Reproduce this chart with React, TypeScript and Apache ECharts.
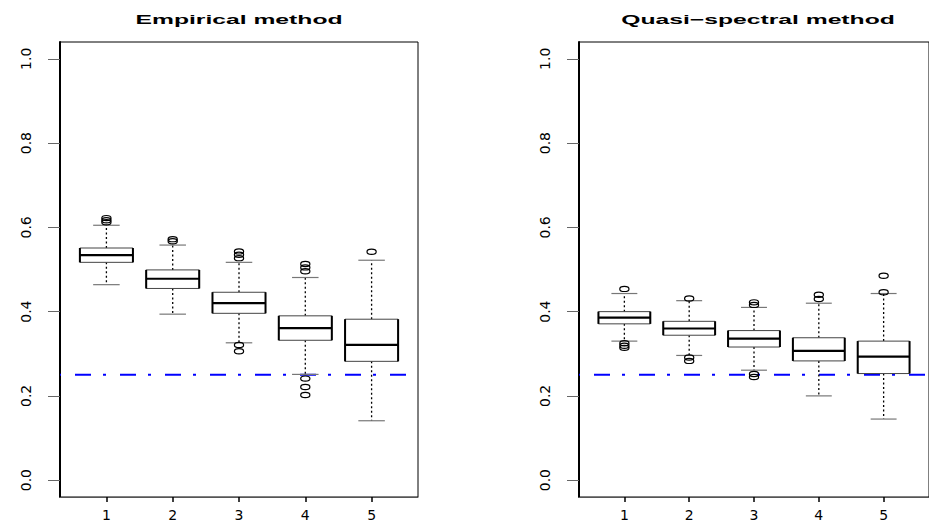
import React, { useEffect, useRef } from "react";
import * as echarts from "echarts";

// Group positions on the x axis and their tick labels
const groups = [1, 2, 3, 4, 5];
const xTickLabels = ["1", "2", "3", "4", "5"];
const yTicks = [0, 0.2, 0.4, 0.6, 0.8, 1.0];
const referenceLevel = 0.25;

const panelTitles = ["Empirical method", "Quasi\u2212spectral method"];

// Empirical method: five-number summaries per group
const empLow = [0.464, 0.394, 0.326, 0.251, 0.141];
const empQ1 = [0.517, 0.455, 0.396, 0.332, 0.282];
const empMedian = [0.534, 0.478, 0.42, 0.361, 0.321];
const empQ3 = [0.551, 0.499, 0.446, 0.39, 0.382];
const empHigh = [0.605, 0.558, 0.517, 0.481, 0.522];
const empOutliers = [
  [1, 0.612], [1, 0.617], [1, 0.622],
  [2, 0.567], [2, 0.572],
  [3, 0.527], [3, 0.535], [3, 0.543], [3, 0.321], [3, 0.306],
  [4, 0.496], [4, 0.505], [4, 0.513], [4, 0.241], [4, 0.221], [4, 0.202],
  [5, 0.542],
];

// Quasi-spectral method: five-number summaries per group
const qsLow = [0.33, 0.296, 0.261, 0.2, 0.145];
const qsQ1 = [0.371, 0.344, 0.316, 0.283, 0.253];
const qsMedian = [0.386, 0.36, 0.336, 0.307, 0.293];
const qsQ3 = [0.4, 0.377, 0.355, 0.338, 0.33];
const qsHigh = [0.443, 0.426, 0.41, 0.42, 0.443];
const qsOutliers = [
  [1, 0.454], [1, 0.325], [1, 0.319], [1, 0.314],
  [2, 0.431], [2, 0.291], [2, 0.283],
  [3, 0.422], [3, 0.416], [3, 0.252], [3, 0.245],
  [4, 0.44], [4, 0.43],
  [5, 0.446], [5, 0.485],
];

const FONT = "DejaVu Sans";

function buildBoxes(low: number[], q1: number[], med: number[], q3: number[], high: number[]) {
  return groups.map((g, i) => [g, low[i], q1[i], med[i], q3[i], high[i]]);
}

function renderBox(_params: any, api: any) {
  const x = api.value(0);
  const cx = api.coord([x, 0])[0];
  const yLow = api.coord([x, api.value(1)])[1];
  const yQ1 = api.coord([x, api.value(2)])[1];
  const yMed = api.coord([x, api.value(3)])[1];
  const yQ3 = api.coord([x, api.value(4)])[1];
  const yHigh = api.coord([x, api.value(5)])[1];
  const half = api.size([0.8, 0])[0] / 2;
  const capHalf = half / 2;
  const whisker = { stroke: "#000", lineWidth: 1.3, lineDash: [2, 2.5] };
  const cap = { stroke: "#777", lineWidth: 1.2 };
  return {
    type: "group",
    children: [
      { type: "line", shape: { x1: cx, y1: yQ3, x2: cx, y2: yHigh }, style: whisker },
      { type: "line", shape: { x1: cx, y1: yQ1, x2: cx, y2: yLow }, style: whisker },
      { type: "line", shape: { x1: cx - capHalf, y1: yHigh, x2: cx + capHalf, y2: yHigh }, style: cap },
      { type: "line", shape: { x1: cx - capHalf, y1: yLow, x2: cx + capHalf, y2: yLow }, style: cap },
      {
        type: "rect",
        shape: { x: cx - half, y: yQ3, width: half * 2, height: yQ1 - yQ3 },
        style: { fill: "#fff", stroke: "#444", lineWidth: 1 },
      },
      { type: "line", shape: { x1: cx - half, y1: yQ3, x2: cx - half, y2: yQ1 }, style: { stroke: "#000", lineWidth: 2 } },
      { type: "line", shape: { x1: cx + half, y1: yQ3, x2: cx + half, y2: yQ1 }, style: { stroke: "#000", lineWidth: 2 } },
      { type: "line", shape: { x1: cx - half, y1: yMed, x2: cx + half, y2: yMed }, style: { stroke: "#000", lineWidth: 2.2 } },
    ],
  };
}

function renderOutlier(_params: any, api: any) {
  const p = api.coord([api.value(0), api.value(1)]);
  return {
    type: "ellipse",
    shape: { cx: p[0], cy: p[1], rx: 4.6, ry: 2.6 },
    style: { fill: "none", stroke: "#000", lineWidth: 1.2 },
  };
}

const gridLefts = [60, 579];

export default function App() {
  const ref = useRef<HTMLDivElement>(null);

  useEffect(() => {
    if (!ref.current) return;
    const chart = echarts.init(ref.current, undefined, { renderer: "svg" });

    const panels = [
      { boxes: buildBoxes(empLow, empQ1, empMedian, empQ3, empHigh), outliers: empOutliers },
      { boxes: buildBoxes(qsLow, qsQ1, qsMedian, qsQ3, qsHigh), outliers: qsOutliers },
    ];

    const grid = gridLefts.map((left) => ({
      left,
      top: 42,
      width: 358,
      height: 456,
      show: true,
      borderColor: "#000",
      borderWidth: 1,
    }));

    const xAxis = gridLefts.map((_, i) => ({
      type: "value",
      gridIndex: i,
      min: 0.3,
      max: 5.7,
      splitLine: { show: false },
      axisLine: { show: true, onZero: false, lineStyle: { color: "#555", width: 1 } },
      axisTick: { show: true, customValues: groups, length: 5, lineStyle: { color: "#000", width: 1.5 } },
      axisLabel: {
        customValues: groups,
        formatter: (v: number) => xTickLabels[groups.indexOf(Math.round(v))],
        margin: 11,
        fontSize: 14,
        fontFamily: FONT,
        color: "#000",
      },
    }));

    const yAxis = gridLefts.map((_, i) => ({
      type: "value",
      gridIndex: i,
      min: -0.04,
      max: 1.04,
      splitLine: { show: false },
      axisLine: { show: true, onZero: false, lineStyle: { color: "#000", width: 2 } },
      axisTick: { show: true, customValues: yTicks, length: 12, lineStyle: { color: "#666", width: 1 } },
      axisLabel: {
        customValues: yTicks,
        rotate: 90,
        formatter: (v: number) => v.toFixed(1),
        margin: 27,
        fontSize: 14,
        fontFamily: FONT,
        color: "#000",
      },
    }));

    const series: any[] = [];
    panels.forEach((panel, i) => {
      series.push({
        type: "line",
        xAxisIndex: i,
        yAxisIndex: i,
        data: [
          [0.3, referenceLevel],
          [5.7, referenceLevel],
        ],
        symbol: "none",
        lineStyle: { color: "#0000ff", width: 2, type: [16, 12, 3, 14], dashOffset: 30 },
        z: 1,
      });
      series.push({
        type: "custom",
        xAxisIndex: i,
        yAxisIndex: i,
        renderItem: renderBox,
        encode: { x: 0, y: [1, 2, 3, 4, 5] },
        data: panel.boxes,
        z: 2,
      });
      series.push({
        type: "custom",
        xAxisIndex: i,
        yAxisIndex: i,
        renderItem: renderOutlier,
        encode: { x: 0, y: 1 },
        data: panel.outliers,
        z: 3,
      });
    });

    chart.setOption({
      animation: false,
      backgroundColor: "#fff",
      grid,
      xAxis,
      yAxis,
      series,
      graphic: panelTitles.map((t, i) => ({
        type: "text",
        x: gridLefts[i] + 179,
        y: 19.5,
        scaleX: 1.9,
        style: {
          text: t,
          textAlign: "center",
          textVerticalAlign: "middle",
          fontFamily: "Liberation Sans",
          fontWeight: "bold",
          fontSize: 13,
          fill: "#000",
        },
      })),
    });

    return () => chart.dispose();
  }, []);

  return <div ref={ref} style={{ position: "absolute", left: 0, top: 0, width: 929, height: 522 }} />;
}
